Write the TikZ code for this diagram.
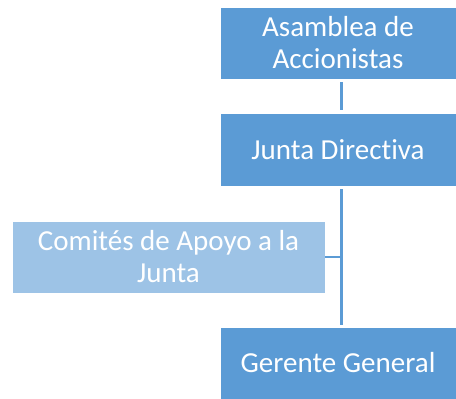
\documentclass[tikz,border=0pt]{standalone}
\usepackage{fontspec}
\setmainfont{Carlito}[Ligatures=NoCommon]
\usepackage{xcolor}
\usepackage{tikz}
\usetikzlibrary{calc}
\definecolor{boxBlue}{HTML}{5B9BD5}
\definecolor{boxLight}{HTML}{9DC3E6}
\definecolor{boxText}{HTML}{FFFFFF}
\tikzset{
  orgBox/.style={rectangle, fill=boxBlue, draw=white, line width=0.8pt,
    text=boxText, align=center, font=\fontsize{29}{32}\selectfont,
    minimum width=236pt, minimum height=72pt, inner sep=0pt},
  orgSide/.style={orgBox, fill=boxLight, minimum width=313pt},
  orgLink/.style={draw=boxBlue, line width=2.4pt}
}

\begin{document}
\begin{tikzpicture}[x=1pt, y=1pt]
  \useasboundingbox (0,0) rectangle (456,399);

  \node[orgBox] (asamblea) at (338,356) {Asamblea de\\Accionistas};
  \node[orgBox, minimum height=73pt] (junta) at (338,249.5) {Junta Directiva};
  \node[orgSide] (comites) at (168.5,142) {Comités de Apoyo a la\\Junta};
  \node[orgBox] (gerente) at (338,36) {Gerente General};

  \coordinate (trunk) at (341.5,0);

  \draw[orgLink, shorten <=3pt, shorten >=3pt]
    (asamblea.south -| trunk) -- (junta.north -| trunk);
  \draw[orgLink, shorten <=3pt, shorten >=2pt]
    (junta.south -| trunk) -- (gerente.north -| trunk);
  \draw[orgLink] (comites.east) -- (comites.east -| trunk);
\end{tikzpicture}
\end{document}
